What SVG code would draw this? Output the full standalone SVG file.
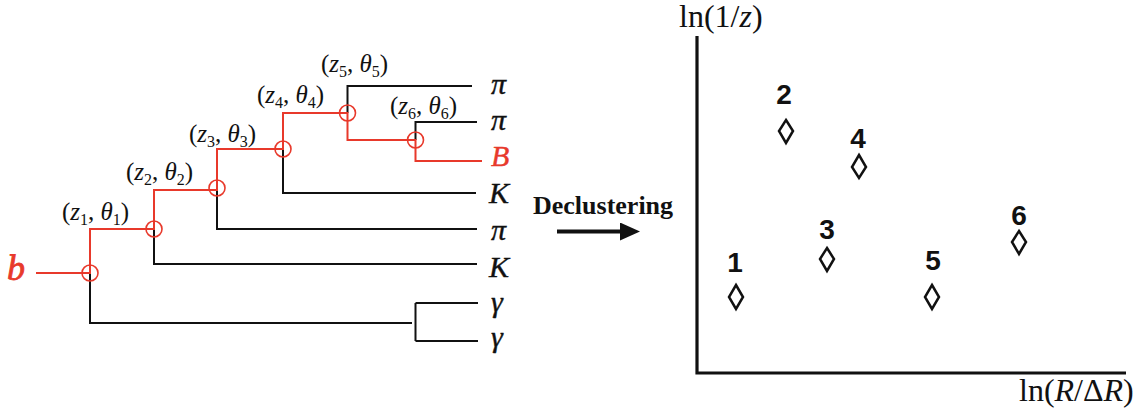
<svg xmlns="http://www.w3.org/2000/svg" width="1142" height="412" viewBox="0 0 1142 412">
<defs>
<style>
.blk{fill:none;stroke:#111;stroke-width:2}
.red{fill:none;stroke:#e8392b;stroke-width:2}
.node{fill:none;stroke:#e8392b;stroke-width:1.6}
.lbl{font-family:"Liberation Serif","Times New Roman",serif;font-size:25px;fill:#111}
.sub{font-size:16px}
.it{font-style:italic}
.leaf{font-family:"Liberation Serif","Times New Roman",serif;font-style:italic;font-size:30px;fill:#111;stroke:#111;stroke-width:0.4}
.ax{font-family:"Liberation Serif","Times New Roman",serif;font-size:32px;fill:#111}
.num{font-family:"Liberation Sans",Arial,sans-serif;font-weight:bold;font-size:28px;fill:#111;text-anchor:middle}
.dia{fill:#fff;stroke:#111;stroke-width:2.5}
</style>
<marker id="ah" markerWidth="20" markerHeight="20" refX="0" refY="9" orient="auto" markerUnits="userSpaceOnUse">
<path d="M0,0 L20,9 L0,18 Z" fill="#111"/>
</marker>
</defs>

<g id="connectors">
<path class="blk" d="M90,273 V323 H412"/>
<path class="blk" d="M415.5,303 V341 M415.5,303 H478 M415.5,341 H478"/>
<path class="blk" d="M154,229 V264 H477"/>
<path class="blk" d="M217,188 V229 H477"/>
<path class="blk" d="M283,149 V193 H476"/>
<path class="blk" d="M347.5,113 V86 H472"/>
<path class="blk" d="M415.5,140 V122 H477"/>
<path class="red" d="M36,273 H90 V229 H154 V190 H217 V149 H283 V113 H347.5 V140 H415.5 V161 H482"/>
<line x1="557" y1="231.5" x2="620" y2="231.5" stroke="#111" stroke-width="4" marker-end="url(#ah)"/>
<path d="M697,36 V373 H1126" fill="none" stroke="#111" stroke-width="3.2"/>
</g>

<g id="node1"><circle class="node" cx="90" cy="273" r="8"/>
<text class="lbl" x="62" y="220">(<tspan class="it">z</tspan><tspan class="sub" dy="5">1</tspan><tspan dy="-5">, </tspan><tspan class="it">θ</tspan><tspan class="sub" dy="5">1</tspan><tspan dy="-5">)</tspan></text></g>
<g id="node2"><circle class="node" cx="154" cy="229" r="8"/>
<text class="lbl" x="126" y="180">(<tspan class="it">z</tspan><tspan class="sub" dy="5">2</tspan><tspan dy="-5">, </tspan><tspan class="it">θ</tspan><tspan class="sub" dy="5">2</tspan><tspan dy="-5">)</tspan></text></g>
<g id="node3"><circle class="node" cx="217" cy="188" r="8"/>
<text class="lbl" x="189" y="142">(<tspan class="it">z</tspan><tspan class="sub" dy="5">3</tspan><tspan dy="-5">, </tspan><tspan class="it">θ</tspan><tspan class="sub" dy="5">3</tspan><tspan dy="-5">)</tspan></text></g>
<g id="node4"><circle class="node" cx="283" cy="149" r="8"/>
<text class="lbl" x="257" y="103">(<tspan class="it">z</tspan><tspan class="sub" dy="5">4</tspan><tspan dy="-5">, </tspan><tspan class="it">θ</tspan><tspan class="sub" dy="5">4</tspan><tspan dy="-5">)</tspan></text></g>
<g id="node5"><circle class="node" cx="347.5" cy="113" r="8"/>
<text class="lbl" x="321" y="72">(<tspan class="it">z</tspan><tspan class="sub" dy="5">5</tspan><tspan dy="-5">, </tspan><tspan class="it">θ</tspan><tspan class="sub" dy="5">5</tspan><tspan dy="-5">)</tspan></text></g>
<g id="node6"><circle class="node" cx="415.5" cy="140" r="8"/>
<text class="lbl" x="390" y="114">(<tspan class="it">z</tspan><tspan class="sub" dy="5">6</tspan><tspan dy="-5">, </tspan><tspan class="it">θ</tspan><tspan class="sub" dy="5">6</tspan><tspan dy="-5">)</tspan></text></g>

<g id="leaves">
<text class="leaf" x="7" y="280" style="fill:#e8392b;stroke:#e8392b;stroke-width:0.8;font-size:36px">b</text>
<text class="leaf" x="491" y="94">π</text>
<text class="leaf" x="491" y="130">π</text>
<text class="leaf" x="491" y="166" style="fill:#e8392b;stroke:#e8392b">B</text>
<text class="leaf" x="489" y="203">K</text>
<text class="leaf" x="491" y="240">π</text>
<text class="leaf" x="489" y="277">K</text>
<text class="leaf" x="491" y="312">γ</text>
<text class="leaf" x="491" y="347">γ</text>
</g>

<g id="declustering">
<text x="533" y="214" style="font-family:'Liberation Serif','Times New Roman',serif;font-weight:bold;font-size:26px;fill:#111">Declustering</text>
</g>

<g id="axis-labels">
<text class="ax" x="679" y="27">ln(1/<tspan class="it">z</tspan>)</text>
<text class="ax" x="1019" y="401">ln(<tspan class="it">R</tspan>/Δ<tspan class="it">R</tspan>)</text>
</g>

<g id="point1"><path class="dia" d="M736,285 L743,297 L736,309 L729,297 Z"/><text class="num" x="735" y="272">1</text></g>
<g id="point2"><path class="dia" d="M786,120 L793,131 L786,143 L779,131 Z"/><text class="num" x="784" y="104">2</text></g>
<g id="point3"><path class="dia" d="M827,248 L834,259 L827,271 L820,259 Z"/><text class="num" x="827" y="239">3</text></g>
<g id="point4"><path class="dia" d="M859,155 L866,167 L859,178 L852,167 Z"/><text class="num" x="858" y="148">4</text></g>
<g id="point5"><path class="dia" d="M932,285 L939,297 L932,309 L925,297 Z"/><text class="num" x="933" y="270">5</text></g>
<g id="point6"><path class="dia" d="M1019,231 L1026,242 L1019,254 L1012,242 Z"/><text class="num" x="1019" y="225">6</text></g>
</svg>
